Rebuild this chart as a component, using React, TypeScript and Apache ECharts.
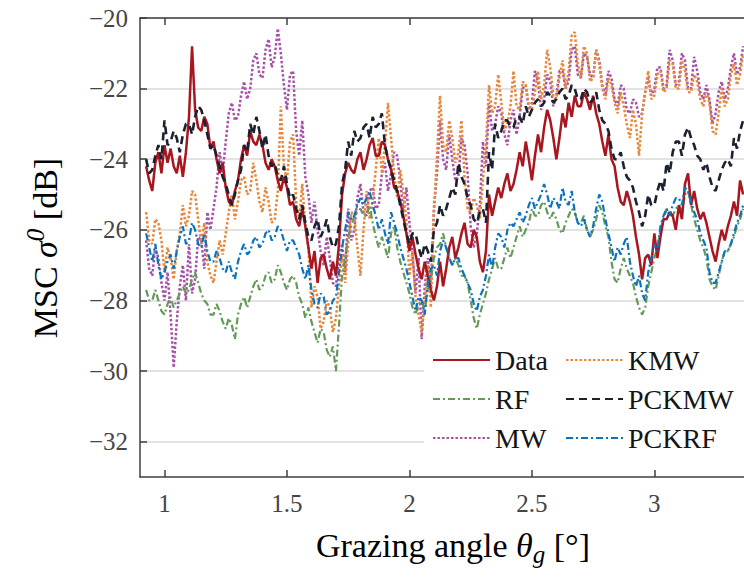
import React, { useEffect, useRef } from "react";
import * as echarts from "echarts";

// Sampling grid of the curves (degrees)
const X_START = 0.925;
const X_STEP = 0.0125;

const xTicks = [1, 1.5, 2, 2.5, 3];
const yTicks = [-32, -30, -28, -26, -24, -22, -20];

// MSC sigma0 [dB]
const dataVals = [
  -24.2,-24.6, -24.9,-24.1, -23.8,-24.4, -23.6,-24.1, -23.7,-24.2, -24.4,-23.9, -24.5,-23.8, -22.8,-20.8, -22.6,-23.1, -23.2,-22.8,
  -23.0,-23.7, -23.5,-24.0, -24.4,-24.1, -24.8,-25.2, -25.3,-24.9, -24.6,-24.0, -23.6,-23.9, -23.2,-23.5, -23.6,-23.3, -23.6,-24.1,
  -24.3,-24.0, -24.2,-24.6, -24.9,-24.5, -24.8,-25.3, -25.2,-25.7, -25.9,-25.4, -25.9,-26.5, -27.1,-26.6, -27.5,-26.8, -26.7,-27.1,
  -27.4,-26.9, -27.3,-26.4, -25.0,-24.4, -24.1,-24.3, -24.4,-24.0, -23.8,-24.3, -24.0,-23.6, -23.4,-23.9, -23.9,-23.5, -23.6,-24.0,
  -24.3,-24.8, -24.9,-25.2, -25.6,-26.1, -26.6,-26.2, -26.7,-27.1, -27.4,-26.9, -27.3,-27.7, -28.0,-27.6, -26.9,-27.6, -27.1,-26.5,
  -26.2,-26.8, -26.5,-26.1, -25.8,-26.4, -26.5,-26.0, -26.2,-26.9, -27.2,-26.6, -25.0,-25.6, -25.2,-24.8, -25.1,-24.7, -24.4,-24.9,
  -24.7,-24.3, -23.8,-24.2, -23.5,-24.0, -24.6,-23.9, -23.3,-23.8, -23.1,-22.6, -22.9,-23.4, -24.0,-23.4, -22.7,-23.1, -22.4,-22.8,
  -22.2,-22.5, -22.5,-22.1, -22.3,-22.6, -22.2,-22.7, -23.0,-23.5, -23.9,-23.3, -24.0,-24.2, -24.8,-25.2, -25.3,-24.9, -25.2,-25.6,
  -26.2,-26.7, -27.4,-26.8, -26.7,-27.0, -26.1,-26.8, -26.2,-25.7, -25.7,-25.5, -25.6,-26.0, -25.3,-25.7, -24.7,-24.4, -25.3,-24.9,
  -25.4,-25.7, -25.5,-25.8, -26.2,-26.6, -26.9,-26.4, -26.0,-26.3, -25.9,-25.6, -25.2,-25.6, -24.6,-25.0,
];

const rfVals = [
  -27.7,-28.0, -28.0,-27.7, -28.0,-28.3, -28.4,-28.1, -27.9,-28.2, -28.0,-27.8, -27.6,-27.8, -27.7,-27.4, -27.2,-27.5, -27.8,-28.0,
  -28.1,-28.4, -28.4,-28.1, -28.3,-28.6, -28.8,-28.5, -28.7,-29.1, -28.4,-28.1, -27.9,-28.2, -27.9,-27.6, -27.4,-27.7, -27.6,-27.3,
  -27.2,-27.5, -27.4,-27.0, -27.2,-27.5, -27.7,-27.4, -27.3,-27.5, -27.9,-28.1, -28.5,-28.2, -28.6,-28.9, -29.2,-28.8, -28.9,-29.4,
  -29.6,-29.3, -30.0,-28.7, -27.3,-26.8, -26.2,-25.9, -25.6,-25.5, -25.4,-25.6, -25.6,-25.3, -25.8,-26.2, -26.5,-26.2, -26.5,-26.8,
  -26.1,-25.9, -26.5,-26.9, -27.2,-27.5, -27.8,-28.2, -28.4,-28.1, -28.0,-28.3, -27.7,-27.4, -26.8,-26.5, -26.4,-26.1, -26.5,-26.8,
  -27.0,-26.8, -27.0,-27.3, -27.3,-27.5, -28.0,-28.5, -28.8,-28.4, -28.1,-27.8, -27.4,-27.1, -26.8,-27.1, -27.1,-26.8, -26.5,-26.8,
  -26.5,-26.2, -25.9,-26.2, -26.0,-25.8, -25.4,-25.6, -25.6,-25.3, -25.2,-25.5, -25.7,-25.5, -25.7,-26.0, -26.1,-25.8, -25.6,-25.4,
  -25.5,-25.8, -25.8,-25.6, -26.0,-26.2, -26.0,-25.7, -25.3,-25.5, -25.9,-26.2, -26.9,-27.4, -27.5,-27.1, -26.8,-27.1, -27.3,-27.5,
  -27.9,-28.2, -28.4,-28.2, -27.6,-27.2, -26.8,-26.5, -26.0,-25.7, -25.4,-25.6, -25.6,-25.4, -25.3,-25.5, -25.0,-24.9, -25.3,-25.7,
  -26.0,-26.3, -26.5,-26.8, -27.4,-27.6, -27.7,-27.3, -26.9,-26.6, -26.6,-26.4, -26.2,-25.9, -25.7,-25.4,
];

const mwVals = [
  -26.3,-27.1, -27.3,-26.5, -26.8,-27.5, -28.0,-27.2, -28.4,-29.9, -28.6,-27.6, -27.0,-28.0, -26.4,-27.8, -27.4,-26.2, -26.3,-27.1,
  -25.5,-26.0, -25.4,-24.8, -23.8,-24.4, -23.5,-22.7, -22.4,-22.9, -22.8,-22.2, -21.8,-22.3, -22.0,-21.2, -21.0,-21.6, -21.7,-20.9,
  -20.6,-21.4, -21.1,-20.3, -21.0,-21.9, -22.6,-21.6, -21.5,-23.2, -23.9,-22.9, -24.5,-25.0, -25.8,-25.2, -26.0,-26.6, -27.0,-26.2,
  -26.8,-27.5, -27.6,-26.8, -26.4,-27.2, -25.4,-26.3, -26.0,-25.1, -24.7,-25.5, -25.6,-24.9, -24.8,-25.4, -25.3,-24.4, -24.1,-24.9,
  -24.4,-23.8, -23.9,-24.6, -25.5,-24.8, -25.8,-26.7, -27.8,-26.8, -29.1,-27.6, -26.8,-27.6, -25.4,-24.4, -22.9,-24.0, -24.3,-23.3,
  -24.0,-24.6, -24.5,-23.4, -23.6,-24.4, -25.9,-26.5, -26.1,-25.3, -23.5,-24.2, -22.4,-23.2, -23.0,-22.5, -22.7,-23.3, -23.6,-22.9,
  -22.6,-23.3, -22.8,-22.0, -21.9,-22.6, -22.4,-21.5, -21.8,-22.6, -22.3,-21.6, -21.8,-22.5, -22.2,-21.5, -21.5,-22.0, -21.8,-20.9,
  -20.8,-21.6, -21.7,-21.0, -21.1,-21.6, -21.7,-20.9, -21.2,-21.9, -22.2,-21.5, -21.7,-22.3, -22.5,-21.9, -22.0,-22.6, -22.7,-22.3,
  -22.4,-22.8, -22.7,-22.1, -21.7,-22.2, -22.0,-21.4, -21.4,-22.0, -21.9,-20.9, -21.2,-21.9, -21.8,-21.0, -21.2,-22.0, -22.0,-21.1,
  -21.5,-22.1, -22.3,-21.9, -22.3,-23.0, -22.7,-22.1, -21.8,-22.3, -22.0,-21.4, -21.0,-21.6, -21.4,-20.8,
];

const kmwVals = [
  -25.5,-26.3, -26.4,-25.7, -25.8,-26.3, -27.2,-26.5, -26.8,-27.4, -26.6,-26.1, -25.3,-25.9, -25.6,-24.9, -25.0,-25.7, -26.4,-25.8,
  -26.9,-27.3, -27.5,-26.9, -26.3,-26.7, -26.1,-25.5, -25.0,-25.7, -25.2,-24.6, -24.5,-25.0, -24.9,-24.1, -24.6,-25.2, -25.5,-24.8,
  -25.2,-25.8, -25.7,-24.9, -22.5,-24.2, -24.6,-23.5, -23.3,-25.2, -25.7,-24.7, -25.9,-26.5, -28.2,-27.6, -27.9,-28.8, -28.6,-28.0,
  -28.2,-28.9, -28.5,-27.6, -26.7,-27.5, -26.4,-25.5, -25.6,-26.5, -27.3,-26.0, -24.9,-25.7, -25.2,-24.3, -23.4,-24.4, -23.6,-22.4,
  -23.4,-24.4, -25.1,-24.3, -24.9,-25.7, -27.3,-26.6, -27.9,-28.4, -28.9,-28.1, -27.0,-28.2, -25.5,-23.9, -22.2,-23.6, -23.8,-22.9,
  -23.4,-24.1, -23.8,-22.9, -24.5,-25.4, -25.5,-25.1, -25.3,-25.7, -24.6,-23.6, -21.9,-22.7, -22.5,-21.6, -22.4,-23.2, -23.0,-22.5,
  -21.5,-22.5, -22.6,-21.8, -21.9,-22.5, -22.6,-22.1, -21.5,-22.3, -21.9,-20.9, -21.4,-22.2, -22.3,-21.7, -21.2,-22.0, -21.5,-20.5,
  -20.4,-21.3, -21.7,-20.8, -21.0,-21.8, -21.7,-20.9, -21.3,-22.0, -22.3,-21.7, -21.9,-22.4, -22.7,-22.1, -22.5,-23.0, -23.4,-22.6,
  -23.0,-23.9, -22.7,-22.1, -21.5,-22.3, -22.2,-21.6, -21.5,-22.1, -22.0,-21.2, -21.3,-22.0, -22.0,-21.2, -21.5,-22.1, -22.1,-21.6,
  -21.8,-22.3, -22.5,-22.1, -22.4,-23.2, -23.3,-22.7, -22.0,-22.5, -22.3,-21.6, -21.3,-21.9, -21.6,-21.0,
];

const pckmwVals = [
  -24.0,-24.4, -24.3,-23.9, -23.6,-24.0, -22.9,-23.6, -23.5,-23.2, -23.4,-23.8, -23.3,-23.0, -23.0,-23.3, -22.8,-22.5, -22.6,-22.9,
  -23.3,-23.7, -23.6,-23.9, -24.2,-24.5, -24.7,-25.0, -25.3,-25.0, -24.6,-24.3, -23.6,-23.8, -23.0,-23.3, -22.8,-23.2, -23.7,-23.3,
  -23.9,-24.2, -24.1,-24.5, -24.6,-24.2, -24.7,-25.1, -25.0,-25.4, -25.7,-25.3, -25.8,-26.2, -26.3,-25.9, -25.7,-26.2, -26.0,-25.7,
  -26.2,-26.5, -26.4,-25.9, -24.7,-24.3, -23.5,-23.9, -23.2,-23.5, -23.4,-23.1, -23.0,-23.4, -22.8,-23.1, -23.0,-22.7, -23.6,-24.0,
  -24.3,-24.6, -24.9,-25.3, -25.7,-26.1, -26.4,-26.1, -26.1,-26.5, -26.8,-26.4, -26.6,-26.9, -26.0,-25.8, -25.3,-25.6, -25.4,-25.1,
  -24.8,-25.0, -24.1,-24.5, -24.7,-25.1, -25.3,-25.7, -25.8,-25.5, -25.4,-25.8, -23.8,-24.3, -23.0,-23.4, -23.2,-22.9, -22.9,-23.1,
  -23.1,-22.8, -22.8,-23.0, -22.5,-22.8, -22.6,-22.4, -22.3,-22.5, -22.4,-22.1, -22.2,-22.4, -22.3,-22.1, -22.0,-22.3, -22.2,-21.9,
  -22.0,-22.3, -22.3,-22.0, -22.1,-22.4, -22.3,-22.1, -22.6,-22.9, -23.0,-23.2, -23.7,-24.0, -24.0,-23.8, -24.2,-24.5, -24.6,-24.8,
  -25.2,-25.5, -25.9,-25.6, -25.0,-25.3, -25.3,-24.9, -24.6,-24.9, -24.1,-24.4, -23.8,-23.5, -23.5,-23.9, -23.3,-23.1, -23.4,-23.6,
  -23.9,-24.0, -24.3,-24.1, -24.5,-24.8, -24.9,-24.6, -24.3,-24.1, -24.0,-24.2, -23.4,-23.7, -23.2,-22.9,
];

const pckrfVals = [
  -26.1,-26.5, -26.9,-26.4, -27.0,-27.4, -27.2,-26.9, -26.7,-27.1, -26.6,-26.2, -25.9,-26.4, -26.3,-25.8, -26.0,-26.4, -26.5,-26.1,
  -26.6,-26.9, -26.9,-26.6, -26.8,-27.1, -27.2,-26.9, -27.2,-27.4, -26.9,-26.6, -26.4,-26.7, -26.6,-26.3, -26.2,-26.5, -26.4,-26.1,
  -26.0,-26.3, -26.2,-25.9, -26.0,-26.3, -26.6,-26.3, -26.3,-26.5, -26.7,-27.1, -27.4,-27.0, -27.7,-28.1, -28.2,-27.8, -27.9,-28.4,
  -28.3,-28.0, -27.9,-27.2, -26.5,-26.0, -25.5,-25.7, -25.6,-25.3, -25.1,-25.3, -25.1,-24.9, -25.3,-25.6, -26.0,-25.7, -26.1,-26.4,
  -25.5,-25.8, -26.1,-26.5, -26.8,-27.1, -27.5,-27.9, -28.3,-27.9, -28.0,-28.4, -27.5,-27.1, -27.0,-27.3, -26.6,-26.3, -26.5,-26.8,
  -27.0,-26.8, -26.8,-27.1, -27.3,-27.5, -27.7,-28.1, -28.3,-27.9, -27.7,-27.3, -26.7,-27.1, -26.5,-26.1, -26.2,-26.5, -26.0,-25.8,
  -25.9,-25.7, -25.5,-25.8, -25.6,-25.3, -25.1,-25.4, -25.2,-25.0, -24.7,-25.0, -25.4,-25.1, -25.2,-25.4, -24.8,-25.2, -25.3,-24.9,
  -25.5,-25.8, -25.9,-25.7, -26.0,-26.2, -25.9,-25.4, -25.0,-25.2, -25.7,-26.1, -26.5,-26.9, -26.5,-26.7, -26.4,-26.2, -26.9,-27.3,
  -27.6,-27.3, -27.8,-28.0, -27.2,-26.8, -26.4,-26.6, -25.9,-25.6, -25.4,-25.6, -25.3,-25.1, -25.1,-25.3, -24.8,-24.9, -25.2,-25.5,
  -25.7,-26.1, -26.3,-26.5, -27.2,-27.5, -27.5,-27.2, -26.9,-26.6, -26.6,-26.4, -26.1,-25.8, -25.6,-25.3,
];

const SERIF = "Liberation Serif";
const AXIS_COLOR = "#3f3f3f";
const LABEL_COLOR = "#454545";

const toPoints = (vals: number[]) =>
  vals.map((v, i) => [Number((X_START + i * X_STEP).toFixed(4)), v]);

const fmt = (v: number) => (v < 0 ? "\u2212" + Math.abs(v) : String(v));
const fmtRich = (v: number) => "{t|" + fmt(v) + "}";

export default function App() {
  const ref = useRef<HTMLDivElement>(null);

  useEffect(() => {
    if (!ref.current) return;
    const chart = echarts.init(ref.current, undefined, { renderer: "svg" });

    const mkSeries = (name: string, vals: number[], color: string, width: number, type: any) => ({
      name,
      type: "line",
      data: toPoints(vals),
      showSymbol: false,
      symbol: "none",
      itemStyle: { color },
      lineStyle: { color, width, type },
      emphasis: { disabled: true },
      z: 2,
    });

    const tickFont = { color: LABEL_COLOR, fontFamily: SERIF, fontSize: 25, fontStyle: "normal", fontWeight: "normal" };
    const labelStyle = { ...tickFont, rich: { t: { ...tickFont } } };

    const xAxisCommon = {
      type: "value",
      min: 0.9,
      max: 3.366,
      axisLine: { show: true, onZero: false, lineStyle: { color: AXIS_COLOR, width: 1.5 } },
      axisTick: { show: true, inside: true, length: 7, customValues: xTicks, lineStyle: { color: AXIS_COLOR, width: 1.5 } },
      splitLine: { show: false },
    };

    const legendCommon = {
      orient: "vertical",
      top: 346,
      padding: 0,
      itemWidth: 57,
      itemHeight: 14,
      itemGap: 11,
      selectedMode: false,
      itemStyle: { opacity: 0, borderWidth: 0 },
      textStyle: { fontFamily: SERIF, fontSize: 28, color: "#151515", lineHeight: 28 },
      z: 6,
    };

    const option: any = {
      animation: false,
      backgroundColor: "#ffffff",
      textStyle: { fontFamily: SERIF },
      grid: { left: 140, top: 18, right: 0, bottom: 102 },
      xAxis: [
        {
          ...xAxisCommon,
          position: "bottom",
          axisLabel: { ...labelStyle, customValues: xTicks, formatter: fmtRich, margin: 14 },
        },
        {
          ...xAxisCommon,
          position: "top",
          axisLabel: { show: false },
        },
      ],
      yAxis: {
        type: "value",
        min: -33,
        max: -20,
        axisLine: { show: true, onZero: false, lineStyle: { color: AXIS_COLOR, width: 1.5 } },
        axisTick: { show: true, inside: true, length: 7, customValues: yTicks, lineStyle: { color: AXIS_COLOR, width: 1.5 } },
        axisLabel: { ...labelStyle, customValues: yTicks, formatter: fmtRich, margin: 12 },
        splitLine: { show: true, lineStyle: { color: "#e3e3e3", width: 2 } },
      },
      legend: [
        { ...legendCommon, left: 432, data: ["Data", "RF", "MW"] },
        { ...legendCommon, left: 565, data: ["KMW", "PCKMW", "PCKRF"] },
      ],
      graphic: [
        {
          type: "rect",
          z: 3,
          shape: { x: 424, y: 338, width: 330, height: 124 },
          style: { fill: "#ffffff" },
        },
        {
          type: "text",
          z: 5,
          x: 453,
          y: 545,
          style: {
            text: "{a|Grazing angle }{i|θ}{s|g}{a| [°]}",
            align: "center",
            verticalAlign: "middle",
            rich: {
              a: { fontFamily: SERIF, fontSize: 34, color: LABEL_COLOR, lineHeight: 44 },
              i: { fontFamily: SERIF, fontSize: 34, fontStyle: "italic", color: LABEL_COLOR, lineHeight: 44 },
              s: { fontFamily: SERIF, fontSize: 25, fontStyle: "italic", color: LABEL_COLOR, lineHeight: 10, verticalAlign: "bottom" },
            },
          },
        },
        {
          type: "text",
          z: 5,
          x: 45,
          y: 248,
          rotation: Math.PI / 2,
          style: {
            text: "{a|MSC }{i|σ}{p|0}{a| [dB]}",
            align: "center",
            verticalAlign: "middle",
            rich: {
              a: { fontFamily: SERIF, fontSize: 34, color: LABEL_COLOR, lineHeight: 44 },
              i: { fontFamily: SERIF, fontSize: 34, fontStyle: "italic", color: LABEL_COLOR, lineHeight: 44 },
              p: { fontFamily: SERIF, fontSize: 25, fontStyle: "italic", color: LABEL_COLOR, lineHeight: 14, verticalAlign: "top" },
            },
          },
        },
      ],
      series: [
        mkSeries("MW", mwVals, "#a652a7", 2.5, [2.5, 2]),
        mkSeries("KMW", kmwVals, "#e8883a", 2.5, [2.5, 2]),
        mkSeries("RF", rfVals, "#649a58", 2.2, [7, 3, 2, 3]),
        mkSeries("Data", dataVals, "#a8161f", 2.5, "solid"),
        mkSeries("PCKRF", pckrfVals, "#0a72c0", 2.2, [7, 3, 2, 3]),
        mkSeries("PCKMW", pckmwVals, "#1c2130", 2.6, [8, 5]),
      ],
    };

    chart.setOption(option);
    return () => chart.dispose();
  }, []);

  return <div ref={ref} style={{ width: 744, height: 579, position: "absolute", left: 0, top: 0 }} />;
}
